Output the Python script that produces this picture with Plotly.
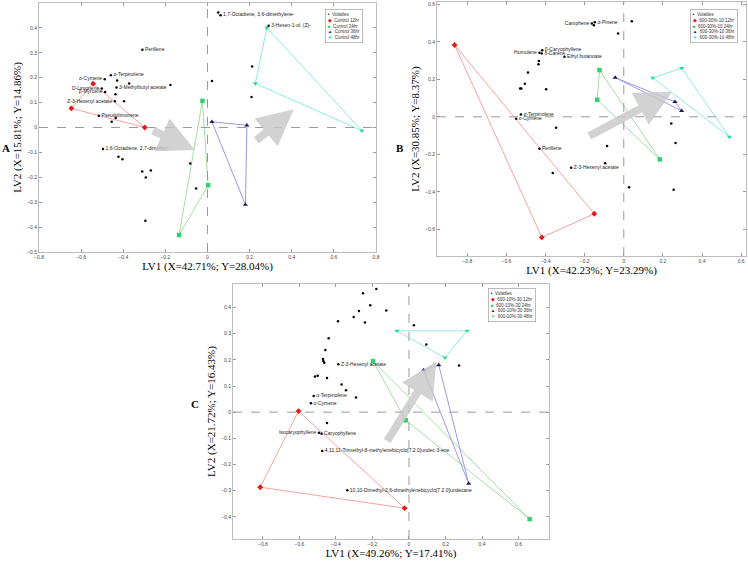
import plotly.graph_objects as go

# ---- data ----
times = ['12hr', '24hr', '36hr', '48hr']

# Panel A: Control
a_groups = ['Control 12hr', 'Control 24hr', 'Control 36hr', 'Control 48hr']
a_grp_x = [[-0.298, -0.543, -0.646], [-0.024, 0.003, -0.135],
           [0.021, 0.187, 0.180], [0.282, 0.227, 0.733]]
a_grp_y = [[0.000, 0.176, 0.077], [0.107, -0.232, -0.432],
           [0.023, 0.009, -0.310], [0.401, 0.177, -0.013]]
a_vol_x = [0.051, 0.062, 0.290, -0.309, -0.459, -0.488, -0.429, -0.372, -0.176, -0.502,
           -0.432, -0.486, -0.437, -0.440, -0.396, -0.516, -0.436, -0.455, -0.496, -0.423,
           -0.404, -0.310, -0.269, -0.293, -0.295, -0.082, -0.054, 0.021, 0.212, 0.209]
a_vol_y = [0.462, 0.451, 0.409, 0.312, 0.210, 0.194, 0.189, 0.177, 0.171, 0.157,
           0.161, 0.143, 0.134, 0.105, 0.105, 0.047, 0.038, 0.023, -0.086, -0.117,
           -0.128, -0.177, -0.173, -0.201, -0.374, -0.145, -0.245, 0.187, 0.245, 0.122]
a_vol_names = ['', '1,7-Octadiene, 3,6-dimethylene-', '3-Hexen-1-ol, (Z)-', 'Perillene',
               'α-Terpinolene', 'o-Cymene', '', '', '', 'D-Limonene',
               '3-Methylbutyl acetate', 'β-Myrcene', '', 'Z-3-Hexenyl acetate', '',
               'Pseudolimonene', '', '', '1,6-Octadiene, 2,7-dimethyl-', '',
               '', '', '', '', '', '', '', '', '', '']
a_left = {'o-Cymene', 'D-Limonene', 'β-Myrcene', 'Z-3-Hexenyl acetate'}
a_arrows = [(-0.266, -0.010, -0.060, -0.090), (0.225, -0.057, 0.410, 0.073)]

# Panel B: 600-30%-10
b_groups = ['600-30%-10 12hr', '600-30%-10 24hr', '600-30%-10 36hr', '600-30%-10 48hr']
b_grp_x = [[-0.865, -0.151, -0.419], [-0.124, -0.136, 0.184],
           [-0.044, 0.262, 0.296], [0.148, 0.296, 0.540]]
b_grp_y = [[0.383, -0.517, -0.643], [0.249, 0.091, -0.227],
           [0.209, 0.080, 0.032], [0.208, 0.259, -0.107]]
b_vol_x = [-0.163, -0.148, -0.153, 0.041, -0.029, -0.431, -0.417, -0.419, -0.303, -0.434,
           -0.436, -0.490, -0.506, -0.530, -0.524, -0.397, -0.526, -0.550, -0.346, -0.431,
           -0.085, -0.269, -0.095, -0.363, 0.243, 0.265, 0.027, 0.255]
b_vol_y = [0.497, 0.504, 0.488, 0.509, 0.444, 0.341, 0.355, 0.337, 0.320, 0.298,
           0.280, 0.236, 0.176, 0.151, 0.151, 0.147, 0.012, -0.011, -0.059, -0.170,
           -0.156, -0.272, -0.247, -0.300, -0.036, -0.140, -0.376, -0.389]
b_vol_names = ['Camphene', 'α-Pinene', '', '', '', 'Humulene', 'β-Caryophyllene', 'δ-Carene',
               'Ethyl butanoate', '', '', '', '', '', '', '', 'α-Terpinolene', 'o-Cymene', '',
               'Perillene', '', 'Z-3-Hexenyl acetate', '', '', '', '', '', '']
b_left = {'Camphene', 'Humulene'}
b_arrows = [(-0.184, -0.107, 0.247, 0.133)]

# Panel C: 600-10%-30
c_groups = ['600-10%-30 12hr', '600-10%-30 24hr', '600-10%-30 36hr', '600-10%-30 48hr']
c_grp_x = [[-0.605, -0.815, -0.024], [-0.197, -0.018, 0.661],
           [0.080, 0.163, 0.327], [-0.066, 0.318, 0.197]]
c_grp_y = [[0.004, -0.287, -0.367], [0.195, -0.031, -0.409],
           [0.161, 0.180, -0.273], [0.311, 0.311, 0.208]]
c_vol_x = [-0.179, -0.252, -0.212, -0.274, -0.124, -0.303, -0.241, -0.389, 0.027, -0.440,
           0.095, -0.458, -0.471, -0.469, -0.464, -0.387, 0.274, -0.500, -0.515, -0.449,
           -0.369, -0.345, -0.522, -0.290, -0.537, -0.449, -0.493, -0.479, -0.475, -0.338]
c_vol_y = [0.471, 0.455, 0.409, 0.387, 0.389, 0.364, 0.343, 0.348, 0.332, 0.283,
           0.259, 0.238, 0.203, 0.196, 0.189, 0.183, 0.178, 0.139, 0.136, 0.131,
           0.106, 0.084, 0.062, 0.056, 0.034, -0.041, -0.079, -0.083, -0.149, -0.299]
c_vol_names = ['', '', '', '', '', '', '', '', '', '',
               '', '', '', '', '', 'Z-3-Hexenyl acetate', '', '', '', '',
               '', '', 'α-Terpinolene', '', 'o-Cymene', '', 'Isocaryophyllene', 'Caryophyllene',
               '4,11,11-Trimethyl-8-methylenebicyclo[7.2.0]undec-3-ene',
               '10,10-Dimethyl-2,6-dimethylenebicyclo[7.2.0]undecane']
c_left = {'Isocaryophyllene'}
c_arrows = [(-0.124, -0.116, 0.150, 0.194)]

# ---- styling ----
W, H = 748, 561
marker_sym = ['diamond', 'square', 'triangle-up', 'triangle-down']
marker_col = ['#e8181b', '#2fd26c', '#1c1c5a', '#1ee38a']
line_col = ['#f4a3a3', '#a6dca6', '#9a9ae6', '#8ee9e9']
legend_sym = ['◆', '■', '▲', '▼']
serif = 'Liberation Serif, Times New Roman, serif'
sans = 'Arial, Liberation Sans'

panels = [
    # axis suffix, groups, gx, gy, vx, vy, names, left, arrows, x range, y range, dtick y,
    # pixel box (l, r, t, b), axis titles, letter pos, legend pos
    ('', a_groups, a_grp_x, a_grp_y, a_vol_x, a_vol_y, a_vol_names, a_left, a_arrows,
     [-0.8, 0.8], [-0.5, 0.5], 0.1, (39, 376, 3, 252),
     'LV1 (X=42.71%; Y=28.04%)', 'LV2 (X=15.81%; Y=14.86%)', 'A', (0, 140), (325, 9)),
    ('2', b_groups, b_grp_x, b_grp_y, b_vol_x, b_vol_y, b_vol_names, b_left, b_arrows,
     [-0.955, 0.625], [-0.742, 0.612], 0.2, (437, 746, 2, 256),
     'LV1 (X=42.23%; Y=23.29%)', 'LV2 (X=30.85%; Y=8.37%)', 'B', (394, 140), (690, 9)),
    ('3', c_groups, c_grp_x, c_grp_y, c_vol_x, c_vol_y, c_vol_names, c_left, c_arrows,
     [-0.964, 0.767], [-0.485, 0.49], 0.1, (233, 549, 284, 539),
     'LV1 (X=49.26%; Y=17.41%)', 'LV2 (X=21.72%; Y=16.43%)', 'C', (189, 412), (488, 288)),
]

fig = go.Figure()
layout = {}

for (sfx, groups, gx, gy, vx, vy, names, left, arrows, xr, yr, dty, box,
     xt, yt, letter, lpos, legpos) in panels:
    xa, ya = 'x' + sfx, 'y' + sfx
    l, r, t, b = box

    # group polygons + markers
    for i in range(4):
        fig.add_trace(go.Scatter(
            x=gx[i] + [gx[i][0]], y=gy[i] + [gy[i][0]],
            mode='lines', line=dict(color=line_col[i], width=1),
            xaxis=xa, yaxis=ya, showlegend=False, hoverinfo='skip'))
        fig.add_trace(go.Scatter(
            x=gx[i], y=gy[i], mode='markers', name=groups[i],
            marker=dict(symbol=marker_sym[i], color=marker_col[i], size=4.5,
                        line=dict(width=0)),
            xaxis=xa, yaxis=ya, showlegend=False))

    # volatiles
    fig.add_trace(go.Scatter(
        x=vx, y=vy, mode='markers+text', name='Volatiles',
        text=names,
        textposition=['middle left' if n in left else 'middle right' for n in names],
        textfont=dict(size=5, color='#222', family=sans),
        marker=dict(color='black', size=2.5),
        xaxis=xa, yaxis=ya, showlegend=False))

    # zero lines
    fig.add_shape(type='line', xref=xa, yref=ya + ' domain', x0=0, x1=0, y0=0, y1=1,
                  line=dict(color='#9a9a9a', width=1, dash='dash'))
    fig.add_shape(type='line', xref=xa + ' domain', yref=ya, x0=0, x1=1, y0=0, y1=0,
                  line=dict(color='#9a9a9a', width=1, dash='dash'))

    # grey trend arrows
    for (x0, y0, x1, y1) in arrows:
        fig.add_annotation(x=x1, y=y1, ax=x0, ay=y0, xref=xa, yref=ya,
                           axref=xa, ayref=ya, text='', showarrow=True,
                           arrowhead=2, arrowsize=0.9, arrowwidth=8,
                           arrowcolor='rgba(200,200,200,0.8)')

    axis_common = dict(showgrid=False, zeroline=False, showline=True, mirror='ticks',
                       linecolor='#bdbdbd', linewidth=1, ticks='inside', ticklen=3,
                       tickcolor='#9a9a9a', automargin=False,
                       tickfont=dict(size=5, color='#444', family=sans))
    layout['xaxis' + sfx] = dict(
        axis_common, domain=[l / W, r / W], range=xr, dtick=0.2, anchor=ya,
        title=dict(text=xt, font=dict(family=serif, size=11, color='black'), standoff=3))
    layout['yaxis' + sfx] = dict(
        axis_common, domain=[1 - b / H, 1 - t / H], range=yr, dtick=dty, anchor=xa,
        title=dict(text=yt, font=dict(family=serif, size=11, color='black'), standoff=3))

    # panel letter
    fig.add_annotation(x=lpos[0] / W, y=1 - lpos[1] / H, xref='paper', yref='paper',
                       text='<b>%s</b>' % letter, showarrow=False, xanchor='left',
                       font=dict(family=serif, size=11, color='black'))

    # compact legend box
    rows = ['<span style="color:black">•</span>  Volatiles']
    for i in range(4):
        rows.append('<span style="color:%s">%s</span>  %s' % (marker_col[i], legend_sym[i], groups[i]))
    fig.add_annotation(x=legpos[0] / W, y=1 - legpos[1] / H, xref='paper', yref='paper',
                       text='<br>'.join(rows), showarrow=False, align='left',
                       xanchor='left', yanchor='top',
                       font=dict(size=4.5, color='#333', family=sans),
                       bgcolor='white', bordercolor='#aaaaaa', borderwidth=0.8, borderpad=2)

fig.update_layout(
    width=W, height=H,
    margin=dict(l=0, r=0, t=0, b=0),
    paper_bgcolor='white', plot_bgcolor='white',
    showlegend=False,
    **layout)

# the page body has a default 8px margin; drop it so the figure fills the window
fig.write_html('out.html', config={'displayModeBar': False},
               post_script="document.body.style.margin='0';document.body.style.overflow='hidden';")
